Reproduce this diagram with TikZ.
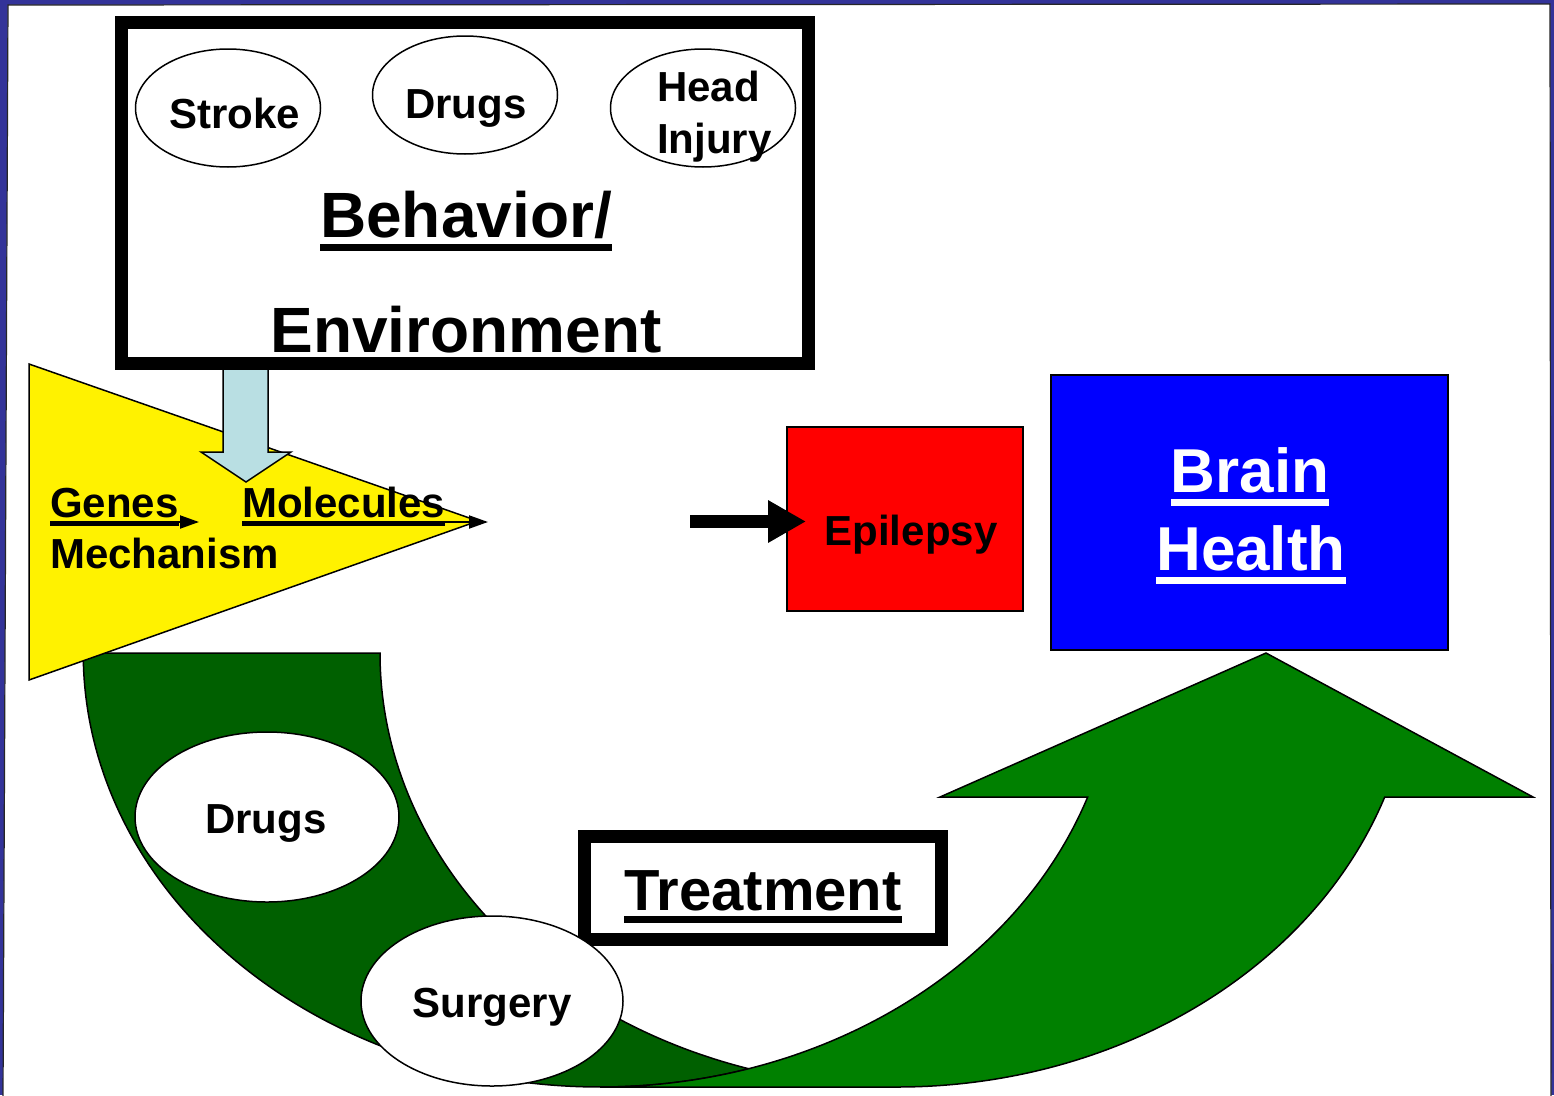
\documentclass[tikz,border=0pt]{standalone}
\usepackage{fontspec}
\setmainfont{Liberation Sans}
\usetikzlibrary{arrows.meta,shapes.geometric}
\definecolor{slideblue}{HTML}{333399}
\definecolor{paleblue}{HTML}{B9DFE3}
\definecolor{backgreen}{HTML}{006000}
\definecolor{frontgreen}{HTML}{008000}
\newsavebox\ulbox
\newcommand\ultext[1]{\sbox\ulbox{#1}\rlap{\rule[-0.22em]{\wd\ulbox}{0.11em}}\usebox\ulbox}

\begin{document}
\begin{tikzpicture}[x=1pt,y=-1pt,
  txt/.style={inner sep=0pt, font=\fontsize{42}{50}\selectfont\bfseries},
  bigtxt/.style={inner sep=0pt, font=\fontsize{64}{70}\selectfont\bfseries},
  oval/.style={draw, ellipse, line width=1.5pt, inner sep=0pt, minimum width=#1},
  frame/.style={draw, line width=13pt, inner sep=0pt, fill=white},
  thinarrow/.style={line width=2pt, -{Triangle[length=19pt,width=13pt]}},
  outline/.style={draw=black, line width=1.5pt}]

% slide background
\fill[slideblue] (0,0) rectangle (1554,1095);
\useasboundingbox (0,0) rectangle (1554,1095);
\filldraw[fill=white, draw=black!85, line width=1.2pt]
  (8,5) -- (1550,4) -- (1551,1100) -- (3,1100) -- cycle;

% behaviour / environment box
\node[frame, minimum width=687pt, minimum height=341pt] (envbox) at (465,193) {};
\node[oval=185pt, minimum height=118pt] (strokeoval) at (228,108) {};
\node[oval=185pt, minimum height=118pt] (drugsoval) at (465,95) {};
\node[oval=185pt, minimum height=118pt] (headoval) at (703,108) {};
\node[txt, anchor=base] (stroke) at (235,128) {Stroke};
\node[txt, anchor=base] (drugs) at (466,118) {Drugs};
\node[txt, anchor=base west] (head) at (657,101) {Head};
\node[txt, anchor=base west] (injury) at (657,153) {Injury};
\node[bigtxt, anchor=base] (behav) at (466,237) {\ultext{Behavior/}};
\node[bigtxt, anchor=base] (environ) at (466,352) {Environment};

% curved treatment band (back part): between two equal ellipses
\filldraw[fill=backgreen, outline]
  (83,653) -- (380,653)
  arc[start angle=180, end angle=253.32, x radius=517pt, y radius=434pt]
  arc[start angle=286.68, end angle=180, x radius=517pt, y radius=434pt]
  -- cycle;

% mechanism triangle
\filldraw[fill=yellow, outline] (29,364) -- (29,680) -- (478,521) -- cycle;

% influence arrow from the box
\filldraw[fill=paleblue, outline]
  (223,369) -- (268,369) -- (268,452) -- (291,452) -- (246,482)
  -- (201,452) -- (223,452) -- cycle;

% genes -> molecules
\node[txt, anchor=base west] (genes) at (50,517) {\ultext{Genes}};
\node[txt, anchor=base west] (molec) at (242,517) {\ultext{Molecules}};
\node[txt, anchor=base west] (mech) at (50,568) {Mechanism};
\coordinate (genestip) at (199,522);
\coordinate (moletip) at (488,522);
\draw[thinarrow] (genes.west |- genestip) -- (genestip);
\draw[thinarrow] (molec.west |- moletip) -- (moletip);

% curved treatment band (front part with head)
\filldraw[fill=frontgreen, outline]
  (600,1087)
  arc[start angle=270, end angle=340.62, x radius=517pt, y radius=434pt]
  -- (940,797) -- (1266,653) -- (1533,797) -- (1384.7,797)
  arc[start angle=340.62, end angle=270, x radius=517pt, y radius=434pt]
  -- cycle;

% treatment label
\node[frame, minimum width=357pt, minimum height=103pt] (treatbox) at (763,888) {};
\node[inner sep=0pt, font=\fontsize{58}{64}\selectfont\bfseries, anchor=base]
  (treat) at (763,910) {\ultext{Treatment}};

% treatment options
\node[oval=264pt, minimum height=170pt, fill=white] (drugs2oval) at (267,817) {};
\node[txt, anchor=base] (drugs2) at (266,833) {Drugs};
\node[oval=262pt, minimum height=170pt, fill=white] (surgoval) at (492,1001) {};
\node[txt, anchor=base] (surg) at (492,1017) {Surgery};

% epilepsy
\node[draw, fill=red, line width=1.5pt, inner sep=0pt,
  minimum width=236pt, minimum height=184pt] (epibox) at (905,519) {};
\node[txt, anchor=base] (epi) at (911,545) {Epilepsy};
\coordinate (epistart) at (690,521.5);
\coordinate (epitip) at (806,521.5);
\draw[line width=13pt, -{Triangle[length=38pt,width=40pt]}] (epistart) -- (epitip);

% brain health
\node[draw, fill=blue, line width=1.5pt, inner sep=0pt,
  minimum width=397pt, minimum height=275pt] (brainbox) at (1249.5,512.5) {};
\node[inner sep=0pt, font=\fontsize{62}{70}\selectfont\bfseries, text=white, anchor=base]
  (brain) at (1250,492) {\ultext{Brain}};
\node[inner sep=0pt, font=\fontsize{62}{70}\selectfont\bfseries, text=white, anchor=base]
  (health) at (1251,570) {\ultext{Health}};
\end{tikzpicture}
\end{document}
